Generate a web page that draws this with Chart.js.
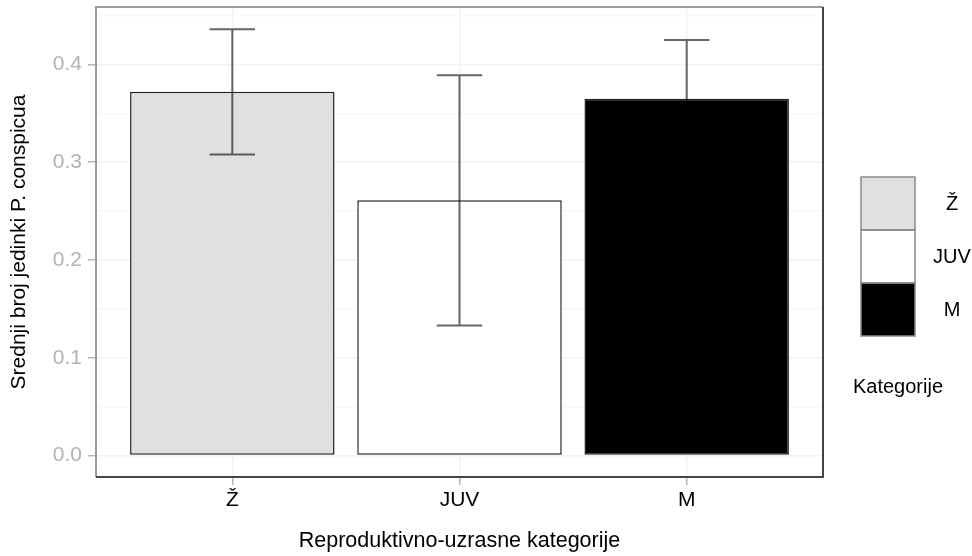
<!DOCTYPE html>
<html>
<head>
<meta charset="utf-8">
<script src="https://cdn.jsdelivr.net/npm/chart.js@4"></script>
<style>
  html, body { margin: 0; padding: 0; background: #fff; }
  #wrap { width: 972px; height: 556px; position: relative; }
</style>
</head>
<body>
<div id="wrap"><canvas id="barChart"></canvas></div>
<script>
const categories = ['Ž', 'JUV', 'M'];
const means = [0.372, 0.261, 0.365];
const errLow = [0.308, 0.133, 0.304];
const errHigh = [0.436, 0.389, 0.425];
const fills = ['#e0e0e0', '#ffffff', '#000000'];
const yTicks = [0, 0.05, 0.1, 0.15, 0.2, 0.25, 0.3, 0.35, 0.4, 0.45];
const legendTitle = 'Kategorije';

const FONT = "'Liberation Sans', Arial, Helvetica, sans-serif";

function isMajor(v) {
  return Math.abs(Math.round(v * 10) - v * 10) < 1e-6;
}

// error bars, panel border and the legend on the right
const panelPlugin = {
  id: 'panel',
  afterDatasetsDraw(chart) {
    const ctx = chart.ctx;
    const xs = chart.scales.x;
    const ys = chart.scales.y;
    const half = xs.getPixelForValue(1.1) - xs.getPixelForValue(1);
    ctx.save();
    ctx.strokeStyle = 'rgba(0,0,0,0.6)';
    ctx.lineWidth = 2;
    for (let i = 0; i < categories.length; i++) {
      const x = xs.getPixelForValue(i + 1);
      const yLo = ys.getPixelForValue(errLow[i]);
      const yHi = ys.getPixelForValue(errHigh[i]);
      ctx.beginPath();
      ctx.moveTo(x, yLo); ctx.lineTo(x, yHi);
      ctx.moveTo(x - half, yHi); ctx.lineTo(x + half, yHi);
      ctx.moveTo(x - half, yLo); ctx.lineTo(x + half, yLo);
      ctx.stroke();
    }
    ctx.restore();
  },
  afterDraw(chart) {
    const ctx = chart.ctx;
    const a = chart.chartArea;
    ctx.save();
    ctx.lineWidth = 2;
    ctx.strokeStyle = '#9a9a9a';
    ctx.beginPath();
    ctx.moveTo(a.left, a.bottom); ctx.lineTo(a.left, a.top); ctx.lineTo(a.right, a.top);
    ctx.stroke();
    ctx.strokeStyle = '#444';
    ctx.beginPath();
    ctx.moveTo(a.left, a.bottom); ctx.lineTo(a.right, a.bottom); ctx.lineTo(a.right, a.top);
    ctx.stroke();

    // legend
    const kx = 861, kw = 54, kh = 53, ky = 177;
    ctx.font = '20px ' + FONT;
    ctx.textAlign = 'center';
    ctx.textBaseline = 'middle';
    for (let i = 0; i < categories.length; i++) {
      const y = ky + i * kh;
      ctx.fillStyle = fills[i];
      ctx.fillRect(kx, y, kw, kh);
      ctx.fillStyle = '#000';
      ctx.fillText(categories[i], 952, y + kh / 2 + 1);
    }
    ctx.lineWidth = 1.5;
    ctx.strokeStyle = '#8a8a8a';
    for (let i = 0; i < categories.length; i++) {
      ctx.strokeRect(kx, ky + i * kh, kw, kh);
    }
    ctx.font = '20px ' + FONT;
    ctx.fillText(legendTitle, 898, 387);
    ctx.restore();
  }
};

const ctx = document.getElementById('barChart').getContext('2d');
new Chart(ctx, {
  type: 'bar',
  data: {
    datasets: [{
      label: legendTitle,
      data: categories.map((c, i) => ({ x: i + 1, y: means[i] })),
      backgroundColor: fills,
      borderColor: '#222',
      borderWidth: 1.5,
      borderSkipped: false,
      barPercentage: 0.9,
      categoryPercentage: 1
    }]
  },
  plugins: [panelPlugin],
  options: {
    responsive: true,
    maintainAspectRatio: false,
    animation: false,
    layout: { padding: { left: 0, top: 7, right: 149, bottom: 0 } },
    plugins: {
      legend: { display: false },
      tooltip: { enabled: false }
    },
    scales: {
      x: {
        type: 'linear',
        offset: false,
        min: 0.4,
        max: 3.6,
        afterBuildTicks: axis => { axis.ticks = categories.map((c, i) => ({ value: i + 1 })); },
        afterFit: axis => { axis.height = 79; axis.paddingLeft = 0; axis.paddingRight = 0; },
        border: { display: false },
        grid: { offset: false, color: '#f4f4f4', lineWidth: 1.5, tickColor: '#b5b5b5', tickLength: 8 },
        ticks: {
          autoSkip: false,
          maxRotation: 0,
          color: '#000',
          padding: 3,
          font: { family: FONT, size: 21 },
          callback: v => categories[Math.round(v) - 1]
        },
        title: {
          display: true,
          text: 'Reproduktivno-uzrasne kategorije',
          color: '#000',
          font: { family: FONT, size: 21.5 },
          padding: { top: 0, bottom: 2 }
        }
      },
      y: {
        min: -0.022,
        max: 0.4588,
        afterBuildTicks: axis => { axis.ticks = yTicks.map(v => ({ value: v })); },
        afterFit: axis => { axis.width = 96; axis.paddingTop = 0; axis.paddingBottom = 0; },
        border: { display: false },
        grid: {
          color: c => isMajor(c.tick.value) ? '#f2f2f2' : '#f8f8f8',
          lineWidth: 1.5,
          tickColor: c => isMajor(c.tick.value) ? '#b5b5b5' : 'transparent',
          tickLength: 8
        },
        ticks: {
          autoSkip: false,
          color: '#b3b3b3',
          padding: 6,
          font: { family: FONT, size: 21 },
          callback: v => isMajor(v) ? v.toFixed(1) : ''
        },
        title: {
          display: true,
          text: 'Srednji broj jedinki P. conspicua',
          color: '#000',
          font: { family: FONT, size: 21 },
          padding: { top: 7, bottom: 0 }
        }
      }
    }
  }
});
</script>
</body>
</html>
